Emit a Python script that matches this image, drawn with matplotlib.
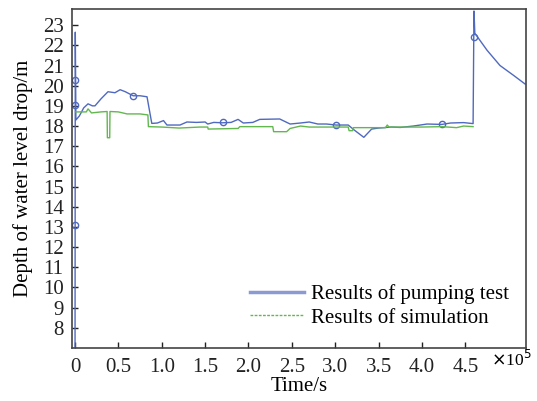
import matplotlib
matplotlib.use("Agg")
import matplotlib.pyplot as plt
from matplotlib.lines import Line2D

plt.rcParams['font.family'] = ['Liberation Serif', 'DejaVu Serif']

# Results of pumping test (time in s, drawdown in m)
test_t = [0, 300, 1000, 5000, 10000, 15000, 20000, 23000, 30000, 38000, 46000, 52000,
          58000, 67000, 75000, 83000, 88500, 95000, 102000, 106000, 121000, 129000,
          140000, 150000, 153000, 160000, 170000, 180000, 188000, 194000, 205000,
          213000, 236000, 248000, 260000, 270000, 280000, 290000, 301000, 315000,
          322000, 333000, 342000, 350000, 365000, 375000, 390000, 406000, 423000,
          433000, 448000, 459000, 460000, 461000, 475000, 490000, 506000, 519000]
test_y = [6.5, 22.65, 18.3, 18.5, 18.9, 19.1, 19.0, 19.0, 19.35, 19.7, 19.65, 19.8,
          19.7, 19.5, 19.5, 19.45, 18.13, 18.15, 18.27, 18.05, 18.05, 18.2,
          18.18, 18.2, 18.1, 18.18, 18.16, 18.18, 18.33, 18.15, 18.18,
          18.33, 18.35, 18.1, 18.15, 18.2, 18.1, 18.1, 18.05, 18.05,
          17.8, 17.44, 17.85, 17.9, 17.95, 17.93, 18.0, 18.1, 18.08,
          18.15, 18.17, 18.12, 23.7, 22.6, 21.76, 21.0, 20.5, 20.08]

# marker positions on the pumping test curve
mark_t = [300, 300, 300, 67000, 171000, 301000, 423000, 460000]
mark_y = [20.3, 19.05, 13.1, 19.5, 18.2, 18.05, 18.08, 22.4]

# Results of simulation
sim_t = [1000, 13000, 15000, 19000, 30000, 37000, 37300, 40000, 40300, 50000, 60000,
         75000, 84000, 84600, 100000, 120000, 144000, 153000, 153500, 188000, 190000,
         228000, 229000, 244000, 248000, 260000, 270000, 290000, 315000, 316000,
         320000, 321000, 358000, 360000, 362000, 380000, 400000, 423000, 440000,
         448000, 459000]
sim_y = [18.7, 18.7, 18.85, 18.65, 18.7, 18.72, 17.42, 17.42, 18.72, 18.7, 18.6,
         18.6, 18.55, 17.97, 17.95, 17.9, 17.95, 17.95, 17.85, 17.88, 17.97,
         17.97, 17.72, 17.72, 17.88, 18.0, 17.95, 17.95, 17.95, 17.77,
         17.77, 17.92, 17.92, 18.05, 17.95, 17.95, 17.95, 17.97, 17.92,
         18.0, 17.97]

xticks = [0, 50000, 100000, 150000, 200000, 250000, 300000, 350000, 400000, 450000]
xtick_labels = ['0', '0.5', '1.0', '1.5', '2.0', '2.5', '3.0', '3.5', '4.0', '4.5']
yticks = list(range(8, 24))

blue = '#5069c0'
green = '#62b84e'

fig = plt.figure(figsize=(5.37, 4.01), dpi=100)
ax = fig.add_axes([72/537, 1-348/401, (526-72)/537, (348-9)/401])

ax.plot(test_t, test_y, color=blue, lw=1.0)
ax.plot(mark_t, mark_y, ls='none', marker='o', ms=4.5, mfc='none', mec=blue, mew=1.0)
ax.plot(sim_t, sim_y, color=green, lw=1.0)

ax.set_xlim(-3500, 520000)
ax.set_ylim(7.0, 23.8)
ax.set_xticks(xticks)
ax.set_xticklabels(xtick_labels)
ax.set_yticks(yticks)
ax.tick_params(direction='in', length=4, width=1, labelsize=15, colors='#222222',
               top=False, right=False)
ax.tick_params(axis='y', pad=6)
ax.tick_params(axis='x', pad=7)
for s in ax.spines.values():
    s.set_color('#444444')
    s.set_linewidth(1.2)

ax.set_xlabel('Time/s', fontsize=15, labelpad=0)
ax.set_ylabel('Depth of water level drop/m', fontsize=15, labelpad=7)
fig.text(532/537, 1-360/401, r'$\times$10$^5$', fontsize=12.5, ha='right', va='center')

handles = [Line2D([], [], color='#8c9ad2', lw=2.5),
           Line2D([], [], color=green, lw=1.0, ls=(0, (2, 1)))]
ax.legend(handles, ['Results of pumping test', 'Results of simulation'],
          loc='lower right', bbox_to_anchor=(0.963, 0.06), frameon=False,
          borderaxespad=0, borderpad=0,
          fontsize=15, handlelength=2.6, handletextpad=0.35, labelspacing=0.2)

fig.savefig('out.png', dpi=100)
